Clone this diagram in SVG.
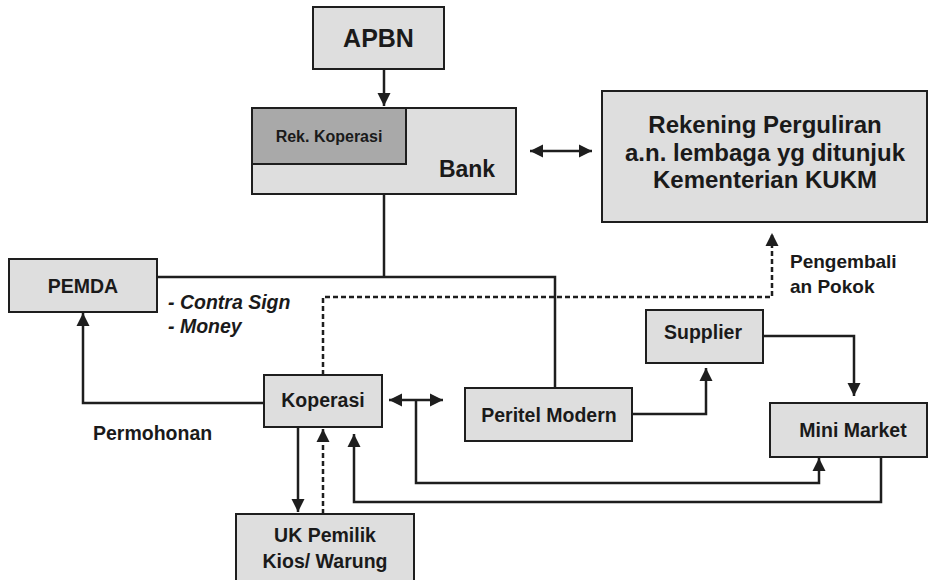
<svg xmlns="http://www.w3.org/2000/svg" width="929" height="580" viewBox="0 0 929 580">
<style>
.box{fill:#dedede;stroke:#1e1e1e;stroke-width:2}
.dark{fill:#a9a9a9;stroke:#1e1e1e;stroke-width:2}
.t{font-family:"Liberation Sans",Arial,sans-serif;font-weight:bold;fill:#1a1a1a;text-anchor:middle}
.l{font-family:"Liberation Sans",Arial,sans-serif;font-weight:bold;fill:#1a1a1a}
.c{fill:none;stroke:#1e1e1e;stroke-width:2.5}
.d{fill:none;stroke:#1e1e1e;stroke-width:2.5;stroke-dasharray:5 3}
</style>
<defs>
<marker id="ah" markerUnits="userSpaceOnUse" markerWidth="14" markerHeight="14" viewBox="0 0 14 14" refX="13" refY="7" orient="auto-start-reverse">
<path d="M0,0.5 L13,7 L0,13.5 Z" fill="#1e1e1e"/>
</marker>
</defs>
<g id="connectors">
<path class="c" d="M384,69 V106" marker-end="url(#ah)"/>
<path class="c" d="M384,194 V277"/>
<path class="c" d="M157,277 H555 V388"/>
<path class="c" d="M530,151 H592" marker-start="url(#ah)" marker-end="url(#ah)"/>
<path class="d" d="M323,375 V297 H772 V233" marker-end="url(#ah)"/>
<path class="c" d="M264,403 H83 V313" marker-end="url(#ah)"/>
<path class="c" d="M389,400 H443" marker-start="url(#ah)" marker-end="url(#ah)"/>
<path class="c" d="M416,400 V483 H819 V458" marker-end="url(#ah)"/>
<path class="c" d="M881,457 V502 H354 V434" marker-end="url(#ah)"/>
<path class="c" d="M298,427 V512" marker-end="url(#ah)"/>
<path class="d" d="M323,514 V429" marker-end="url(#ah)"/>
<path class="c" d="M632,414 H706 V368" marker-end="url(#ah)"/>
<path class="c" d="M763,336 H854 V396" marker-end="url(#ah)"/>
</g>
<g id="apbn">
<rect class="box" x="313" y="7" width="131" height="62"/>
<text class="t" x="378.5" y="47" font-size="25">APBN</text>
</g>
<g id="bank">
<rect class="box" x="252" y="108" width="264" height="86"/>
<text class="t" x="467" y="177" font-size="23">Bank</text>
</g>
<g id="rek-koperasi">
<rect class="dark" x="252" y="108" width="154" height="56"/>
<text class="t" x="329" y="142" font-size="16">Rek. Koperasi</text>
</g>
<g id="rekening">
<rect class="box" x="602" y="91" width="325" height="131"/>
<text class="t" x="765" y="133" font-size="24">Rekening Perguliran</text>
<text class="t" x="765" y="161" font-size="24">a.n. lembaga yg ditunjuk</text>
<text class="t" x="765" y="188" font-size="24">Kementerian KUKM</text>
</g>
<g id="pemda">
<rect class="box" x="9" y="259" width="148" height="53"/>
<text class="t" x="83" y="293" font-size="19.5">PEMDA</text>
</g>
<g id="koperasi">
<rect class="box" x="264" y="375" width="118" height="52"/>
<text class="t" x="323" y="407" font-size="19.5">Koperasi</text>
</g>
<g id="peritel">
<rect class="box" x="465" y="388" width="167" height="53"/>
<text class="t" x="549" y="422" font-size="19.5">Peritel Modern</text>
</g>
<g id="supplier">
<rect class="box" x="646" y="310" width="117" height="53"/>
<text class="t" x="703" y="339" font-size="19.5">Supplier</text>
</g>
<g id="minimarket">
<rect class="box" x="770" y="403" width="157" height="54"/>
<text class="t" x="853" y="437" font-size="19.5">Mini Market</text>
</g>
<g id="uk">
<rect class="box" x="236" y="514" width="178" height="80"/>
<text class="t" x="325" y="542" font-size="19.5">UK Pemilik</text>
<text class="t" x="325" y="568" font-size="19.5">Kios/ Warung</text>
</g>
<g id="labels">
<text class="l" x="168" y="309" font-size="19.5" font-style="italic">- Contra Sign</text>
<text class="l" x="168" y="333" font-size="19.5" font-style="italic">- Money</text>
<text class="l" x="93" y="440" font-size="19.5">Permohonan</text>
<text class="l" x="790" y="268" font-size="19">Pengembali</text>
<text class="l" x="790" y="293" font-size="19">an Pokok</text>
</g>
</svg>
